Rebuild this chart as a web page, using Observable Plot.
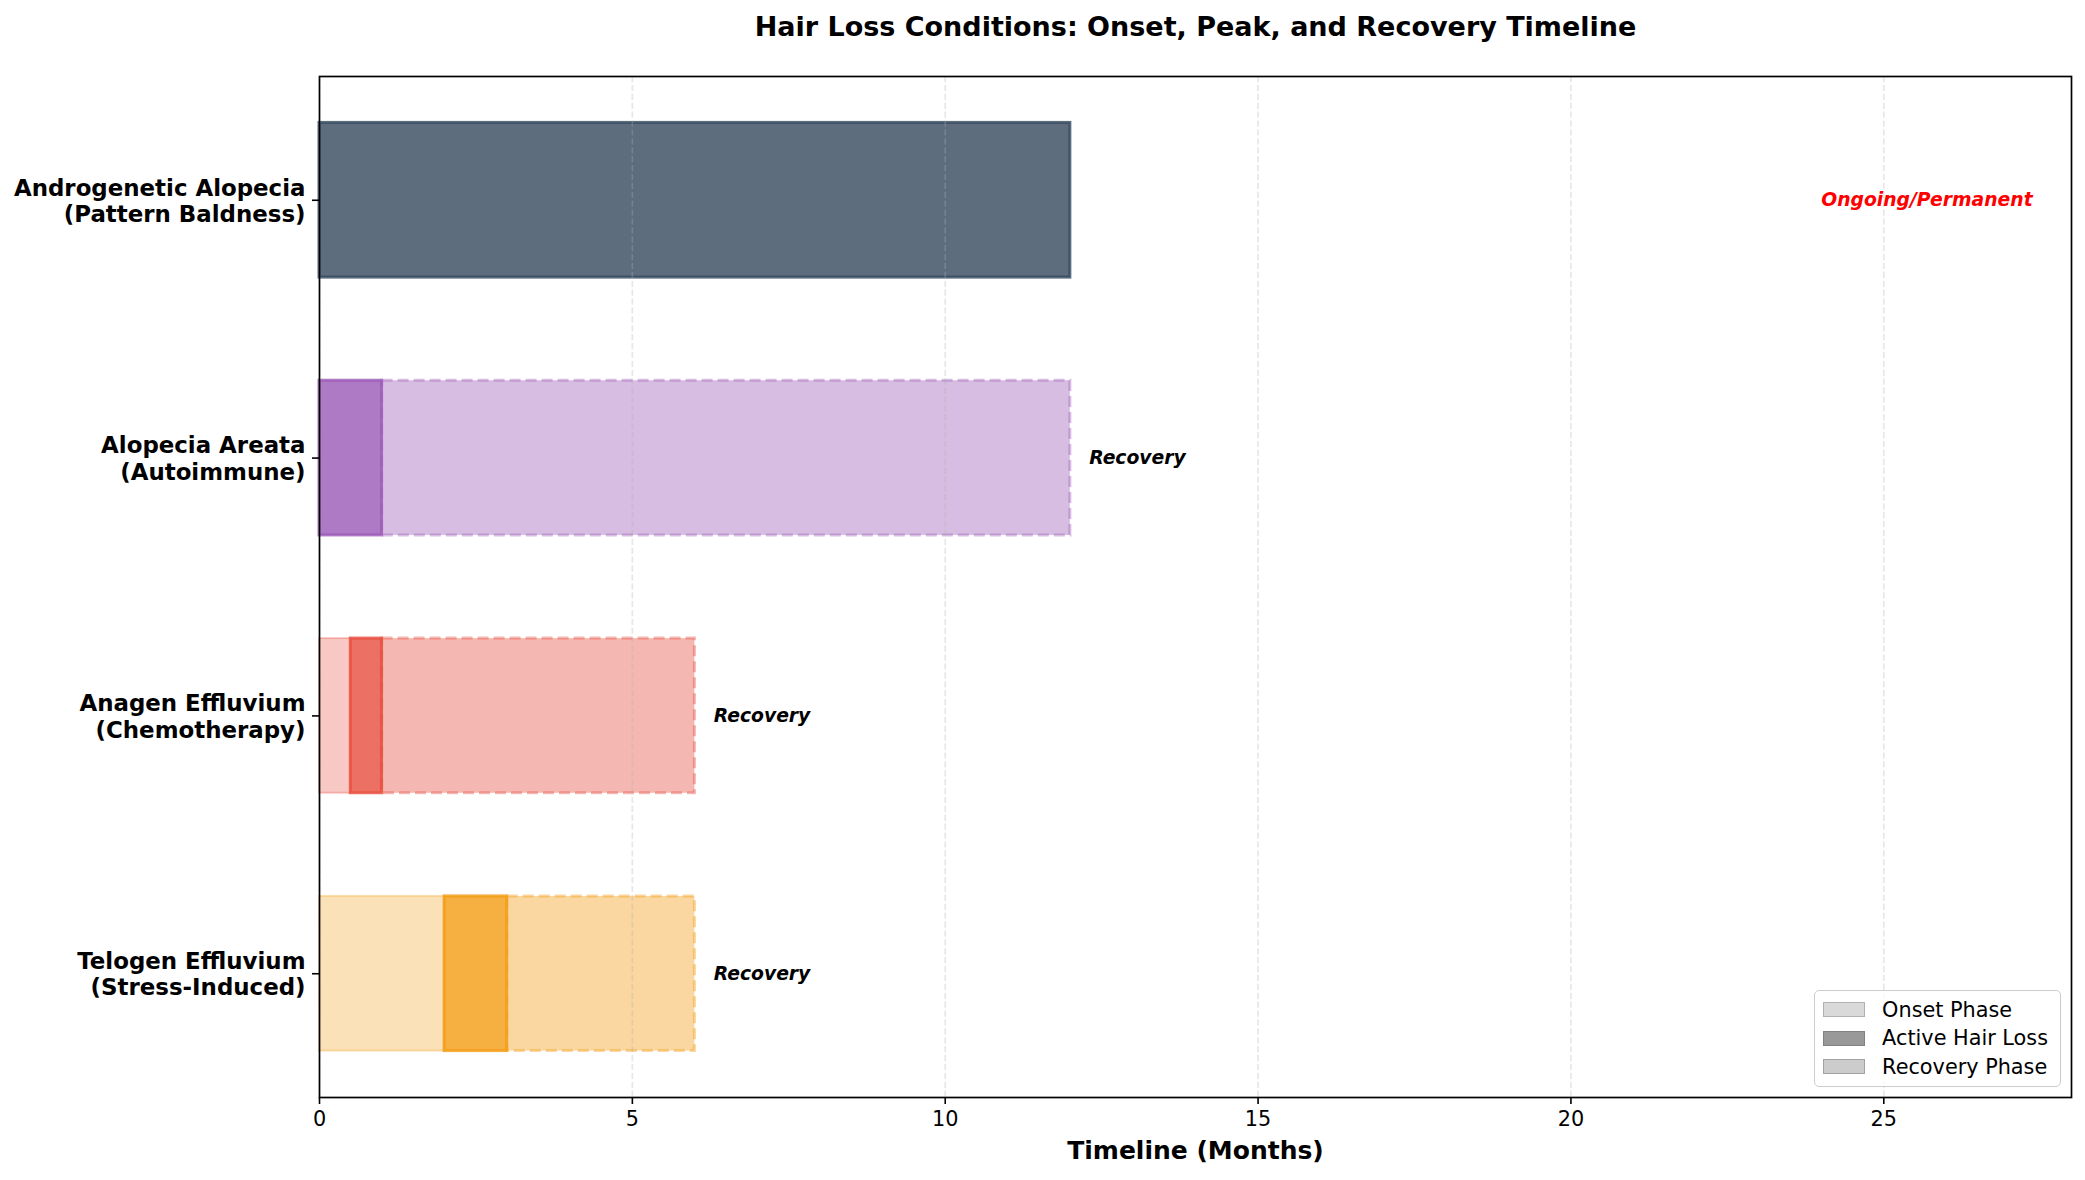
<!DOCTYPE html>
<html>
<head>
<meta charset="utf-8">
<script src="https://cdn.jsdelivr.net/npm/d3@7"></script>
<script src="https://cdn.jsdelivr.net/npm/@observablehq/plot@0.6"></script>
<style>
  body { margin: 0; background: #fff; font-family: "DejaVu Sans", sans-serif; }
  #wrap { position: relative; width: 2085px; height: 1180px; }
  #legend {
    position: absolute; right: 24px; bottom: 93px;
    background: rgba(255,255,255,0.8); border: 1.5px solid #cccccc; border-radius: 5px;
    padding: 5px 12px 5px 8px; font-size: 20.8px; color: #000;
  }
  .row { display: flex; align-items: center; height: 28.5px; }
  .sw { width: 42px; height: 15px; margin-right: 17px; box-sizing: border-box; }
</style>
</head>
<body>
<div id="wrap"></div>
<script>
// Hair-loss conditions, bottom row first (matches y index 0..3)
const conditions = ["Telogen Effluvium", "Anagen Effluvium", "Alopecia Areata", "Androgenetic Alopecia"];
const subtypes = ["Stress-Induced", "Chemotherapy", "Autoimmune", "Pattern Baldness"];
// Phase boundaries in months: onset 0 → onsetEnd, active → peakEnd, recovery → recoveryEnd
const onsetEnd = [2, 0.5, 0, 0];
const peakEnd = [3, 1, 1, 12];
const recoveryEnd = [6, 6, 12, null];
const colors = ["#f39c12", "#e74c3c", "#9b59b6", "#34495e"];
const ongoingLabelX = 24;
const xTicks = [0, 5, 10, 15, 20, 25];

const legendItems = [
  { label: "Onset Phase", opacity: 0.3 },
  { label: "Active Hair Loss", opacity: 0.8 },
  { label: "Recovery Phase", opacity: 0.4 }
];

const rows = conditions.map((name, i) => ({
  i, name, sub: subtypes[i], onset: onsetEnd[i], peak: peakEnd[i], rec: recoveryEnd[i], color: colors[i]
}));
const half = 0.3;
const yLo = d => d.i - half, yHi = d => d.i + half;

const chart = Plot.plot({
  width: 2085,
  height: 1180,
  marginLeft: 319,
  marginRight: 14,
  marginTop: 76,
  marginBottom: 83,
  style: { fontFamily: "DejaVu Sans", background: "white", color: "black" },
  color: { type: "identity" },
  x: { domain: [0, 28] },
  y: { domain: [-0.48, 3.48] },
  marks: [
    // onset phase
    Plot.rect(rows.filter(d => d.onset > 0), {
      x1: () => 0, x2: "onset", y1: yLo, y2: yHi,
      fill: "color", fillOpacity: 0.3, stroke: "color", strokeOpacity: 0.3, strokeWidth: 2
    }),
    // recovery phase
    Plot.rect(rows.filter(d => d.rec != null), {
      x1: "peak", x2: "rec", y1: yLo, y2: yHi,
      fill: "color", fillOpacity: 0.4, stroke: "color", strokeOpacity: 0.4, strokeWidth: 3,
      strokeDasharray: "11,5"
    }),
    // active hair loss
    Plot.rect(rows, {
      x1: "onset", x2: "peak", y1: yLo, y2: yHi,
      fill: "color", fillOpacity: 0.8, stroke: "color", strokeOpacity: 0.8, strokeWidth: 3
    }),
    Plot.gridX(xTicks, { stroke: "#b0b0b0", strokeOpacity: 0.3, strokeWidth: 1.67, strokeDasharray: "6.2,2.7" }),
    Plot.text(rows.filter(d => d.rec != null), {
      x: d => d.rec + 0.3, y: "i", text: () => "Recovery", textAnchor: "start",
      fontSize: 18.75, fontWeight: "bold", fontStyle: "italic", fill: "black"
    }),
    Plot.text(rows.filter(d => d.rec == null), {
      x: () => ongoingLabelX, y: "i", text: () => "Ongoing/Permanent", textAnchor: "start",
      fontSize: 18.75, fontWeight: "bold", fontStyle: "italic", fill: "red"
    }),
    Plot.frame({ stroke: "black", strokeWidth: 1.7 }),
    Plot.axisX(xTicks, {
      tickSize: 7, tickPadding: 7, fontSize: 20.8, strokeWidth: 1.6, label: null, tickFormat: d => String(d)
    }),
    Plot.axisY([0, 1, 2, 3], {
      tickSize: 7, tickPadding: 7, fontSize: 22.9, fontWeight: "bold", lineHeight: 1.15,
      strokeWidth: 1.6, label: null,
      tickFormat: i => conditions[i] + "\n(" + subtypes[i] + ")"
    }),
    Plot.text(["Timeline (Months)"], {
      frameAnchor: "bottom", dy: 61, fontSize: 25, fontWeight: "bold", fill: "black"
    }),
    Plot.text(["Hair Loss Conditions: Onset, Peak, and Recovery Timeline"], {
      frameAnchor: "top", dy: -60, fontSize: 27, fontWeight: "bold", fill: "black"
    })
  ]
});

const wrap = document.getElementById("wrap");
wrap.appendChild(chart);

const legend = document.createElement("div");
legend.id = "legend";
for (const item of legendItems) {
  const row = document.createElement("div");
  row.className = "row";
  const sw = document.createElement("div");
  sw.className = "sw";
  sw.style.background = `rgba(128,128,128,${item.opacity})`;
  sw.style.border = `1px solid rgba(128,128,128,${Math.min(1, item.opacity + 0.15)})`;
  const lab = document.createElement("span");
  lab.textContent = item.label;
  row.appendChild(sw);
  row.appendChild(lab);
  legend.appendChild(row);
}
wrap.appendChild(legend);
</script>
</body>
</html>
